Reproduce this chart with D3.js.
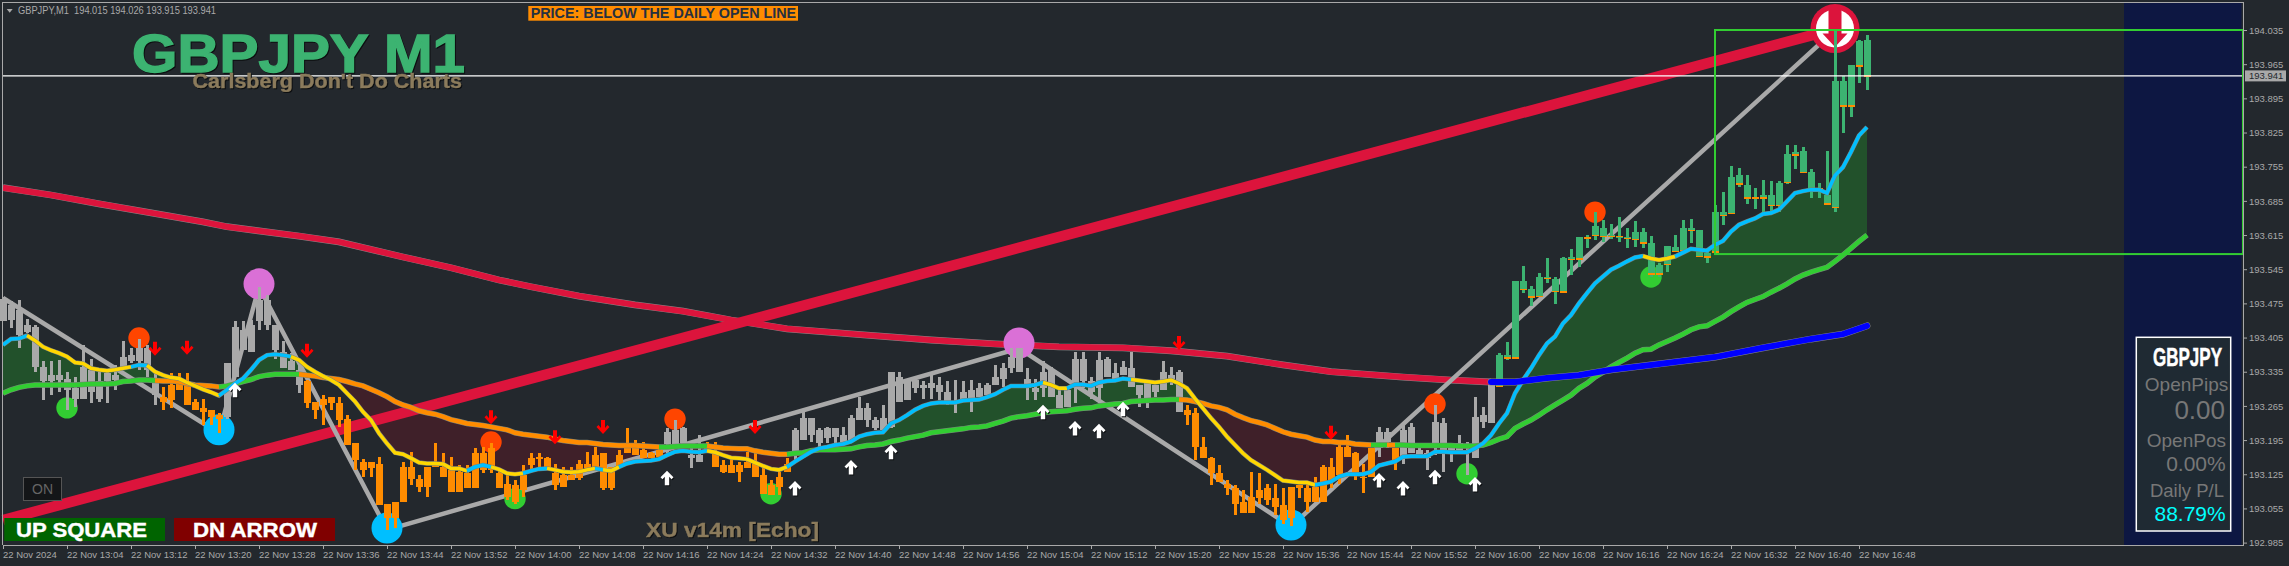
<!DOCTYPE html>
<html><head><meta charset="utf-8">
<script src="https://cdn.jsdelivr.net/npm/d3@7"></script>
<style>
html,body{margin:0;padding:0;background:#23282d;overflow:hidden}
svg{display:block}
text{font-family:"Liberation Sans",Arial,sans-serif;white-space:pre}
.sh{filter:drop-shadow(1px 1px 0 #0c0e10)}
.axis text{font-size:9.5px;fill:#a9a9a9;font-family:"Liberation Sans",Arial,sans-serif}
.axis line{stroke:#a9a9a9}
.axis path{display:none}
</style></head><body><div id="c"></div>
<script>
// Prices below are thousandths above 193.000.
const priceBase = 193;
const high = [489,479,482,444,431,356,356,359,335,325,
390,362,335,335,349,397,383,403,390,332,
304,332,332,332,280,280,257,250,352,438,
438,441,509,492,431,397,373,359,318,274,
287,284,284,246,188,157,151,161,65,69,
151,171,123,140,188,168,161,144,144,178,
181,188,134,
127,113,144,168,168,161,147,
140,140,154,171,181,168,140,175,219,195,
192,171,178,219,236,222,192,205,192,192,
154,154,151,171,168,137,113,130,158,219,
257,240,219,222,219,222,246,284,270,243,
267,335,335,318,321,315,332,325,315,318,
315,318,311,311,349,
352,383,383,342,321,
356,345,304,298,376,376,325,376,366,352,
356,376,308,311,308,356,345,339,267,260,
202,161,144,113,103,93,130,127,106,106,
96,99,103,106,120,144,158,192,205,171,
147,178,222,219,178,229,229,178,175,267,
240,181,205,192,284,263,308,
373,395,520,
552,511,537,567,530,571,587,612,615,663,
645,638,651,629,643,629,613,557,593,615,
646,648,626,588,
676,703,756,752,737,711,
727,725,725,799,799,795,751,722,787,1035,
940,963,1015,1024];
const bodyTop = [485,472,461,431,427,345,328,328,321,301,
345,339,315,332,328,366,369,383,383,321,
284,308,315,308,274,260,257,246,352,427,
420,431,482,482,431,376,356,339,315,274,
280,284,270,239,188,151,151,147,65,69,
140,140,116,140,144,140,134,130,127,168,
168,178,127,
106,103,123,158,161,158,127,
123,123,147,147,164,168,140,164,178,178,
175,168,175,212,216,219,164,164,178,171,
144,144,144,151,147,123,103,120,147,216,
240,240,216,219,219,205,240,260,260,236,
240,335,325,315,318,308,311,308,294,274,
294,298,301,308,325,
342,366,383,321,301,
335,339,287,298,362,362,315,359,362,332,
345,342,308,311,308,335,328,335,257,250,
181,158,127,106,96,69,79,93,96,76,
62,99,102,96,99,140,140,181,181,168,
120,178,212,212,178,216,222,175,168,233,
229,181,188,171,243,246,308,
369,369,520,
520,504,530,530,525,567,570,612,612,634,
629,615,613,610,622,622,598,554,593,591,
629,629,626,578,
662,662,734,739,717,691,
696,696,722,780,785,787,744,710,696,930,
930,963,1012,1014];
const bodyBottom = [438,441,410,417,345,315,315,318,297,280,
280,294,280,315,318,345,356,356,339,287,
274,277,298,267,257,253,243,239,243,325,
379,376,438,431,379,342,339,308,270,257,
267,270,236,185,154,134,137,62,35,35,
69,116,99,99,140,120,89,89,96,96,
134,134,96,
79,69,93,144,156,140,103,
99,113,117,137,140,96,96,140,168,164,
158,158,161,187,187,188,158,151,171,140,
130,127,130,137,119,84,82,99,130,171,
195,205,188,199,202,192,195,236,236,219,
216,222,274,277,301,301,301,294,270,270,
277,277,284,287,308,
321,342,335,301,294,
301,284,260,263,301,315,294,301,325,315,
328,304,287,280,294,298,321,253,246,181,
158,127,110,96,65,45,45,76,72,58,
31,35,96,69,69,69,113,123,161,130,
117,120,178,192,154,161,168,161,158,181,
171,168,171,168,158,233,229,
304,363,363,
503,488,489,525,499,498,564,565,608,614,
612,611,612,607,605,598,535,535,554,581,
583,624,571,570,
580,655,659,719,690,690,
690,675,675,722,778,743,710,709,678,671,
879,879,961,940];
const low = [438,424,383,414,335,277,287,294,257,263,
280,270,274,270,298,339,352,339,325,267,
257,260,298,267,257,226,226,209,239,325,
379,376,420,420,362,342,339,291,260,239,
226,257,222,185,134,120,120,62,11,14,
69,103,89,79,140,120,89,89,96,96,
127,127,96,
72,65,79,134,140,140,93,
99,113,113,137,140,93,93,137,168,164,
158,158,161,168,178,188,137,151,171,140,
127,127,110,137,119,84,82,82,130,154,
195,192,181,188,185,192,192,236,222,216,
216,219,274,277,291,280,280,277,267,250,
277,253,284,287,308,
304,332,335,277,277,
284,284,260,263,270,301,280,270,325,315,
328,304,263,260,284,298,308,253,226,154,
158,103,110,82,41,45,45,65,62,41,
24,18,76,48,69,69,96,106,161,113,
86,120,161,178,134,147,168,158,134,164,
130,151,171,123,158,219,229,
303,359,363,
496,470,488,516,474,498,533,550,588,605,
600,606,600,588,591,589,529,529,539,581,
583,598,571,557,
577,635,659,714,679,669,
659,662,662,719,750,743,690,691,677,662,
825,857,927,913];
const candleRuns = [[0,19,"gray"],[20,27,"orange"],[28,37,"gray"],[38,82,"orange"],[83,87,"gray"],[88,98,"orange"],[99,147,"gray"],[148,171,"orange"],[172,173,"gray"],[174,174,"orange"],[175,186,"gray"],[187,233,"green"]];

const fastLine = [390,402,403,409,399,386,379,373,366,354,352,342,339,337,339,342,345,349,348,335,328,323,321,313,306,299,293,286,298,311,321,339,359,369,371,369,366,359,345,335,326,318,308,291,274,253,236,209,188,169,166,158,149,147,147,146,137,137,132,140,144,140,135,
127,125,127,132,136,137,134,130,129,130,134,137,134,132,140,147,151,152,153,156,164,171,173,171,170,173,170,164,159,158,156,149,142,136,134,140,151,161,171,178,181,185,187,192,202,207,210,211,229,236,246,257,265,270,272,272,272,276,277,278,283,289,
298,306,306,306,308,313,308,301,301,309,309,306,313,316,317,321,319,317,315,313,315,318,311,301,280,260,240,222,202,185,168,154,144,134,123,112,110,108,108,103,106,110,120,125,125,125,130,143,147,151,161,162,162,162,171,171,170,170,170,178,188,205,
229,250,291,318,342,369,393,407,434,451,475,496,516,530,544,552,561,569,572,567,564,567,571,579,587,585,583,595,603,622,636,643,649,658,660,667,684,701,705,708,708,701,737,754,785,819,836];
const slowLine = [291,298,303,306,308,308,308,308,308,308,309,310,310,310,311,315,316,318,318,317,316,316,315,311,308,307,306,304,306,310,315,319,325,328,330,330,330,330,328,326,323,321,319,315,310,306,299,292,284,274,267,262,255,251,248,243,237,233,229,227,225,222,219,
216,210,207,205,203,201,197,194,192,190,190,188,186,185,184,184,184,183,182,181,181,182,183,183,183,183,181,179,178,177,177,173,170,168,166,166,168,169,173,175,175,175,176,177,181,184,185,187,192,195,199,202,205,210,212,214,216,218,221,222,224,229,
234,240,243,245,248,251,253,254,255,258,260,261,265,267,269,270,274,275,276,277,277,278,278,277,274,270,265,262,257,248,241,235,231,226,219,212,207,204,201,195,192,192,190,190,187,186,185,185,185,185,185,184,184,184,184,184,184,183,183,183,185,190,
197,202,219,228,236,246,257,267,277,287,301,311,324,334,345,354,363,373,380,381,390,397,404,412,421,427,429,438,447,458,468,477,483,489,498,506,515,525,533,539,544,549,561,574,588,602,615];
const fastRuns = [[0,3,"blue"],[3,16,"yellow"],[16,18,"blue"],[18,27,"yellow"],[27,36,"blue"],[36,58,"yellow"],[58,61,"blue"],[61,65,"yellow"],[65,68,"blue"],[68,74,"yellow"],[74,75,"blue"],[75,77,"yellow"],[77,88,"blue"],[88,98,"yellow"],[98,130,"blue"],[130,133,"yellow"],[133,141,"blue"],[141,164,"yellow"],[164,205,"blue"],[205,209,"yellow"],[209,233,"blue"]];
const slowRuns = [[0,19,"green"],[19,27,"orange"],[27,37,"green"],[37,82,"orange"],[82,88,"green"],[88,98,"orange"],[98,147,"green"],[147,171,"orange"],[171,173,"green"],[173,174,"orange"],[174,233,"green"]];

const longBarsRed = [0,6,12,18,25,28,37,42,50,56,62,66,72,79,85,91,98,108,116,124,132,140,146,153,160,166,175,181,186];
const longRed = [712,697,679,662,642,632,613,601,570,548,523,509,490,472,459,441,423,410,400,392,386,384,378,367,349,335,324,318,314];
const longBarsBlue = [186,189,193,197,201,206,214,220,226,230,233];
const longBlue = [314,314,322,328,339,349,365,384,402,412,429];

const trendBars = [0,229];
const trendValues = [31,1037];
const zigzagBars = [0,27,32,48,127,161,229];
const zigzagValues = [486,209,509,11,383,18,1035];

const blueDotBars = [27,48,161];      const blueDotValues = [216,15,21];
const pinkDotBars = [32,127];         const pinkDotValues = [515,394];
const redDotBars = [17,61,84,179,199]; const redDotValues = [404,191,238,269,662];
const greenDotBars = [8,64,96,183,206]; const greenDotValues = [261,75,85,126,529];
const downArrowBars = [19,23,38,61,69,75,94,147,166];
const downArrowValues = [382,384,378,242,201,222,222,394,210];
const upArrowBars = [29,83,99,106,111,130,134,137,140,172,175,179,184];
const upArrowValues = [298,118,97,140,171,253,220,214,259,113,97,120,105];
const bigMarkerBar = 229, bigMarkerValue = 1038;
const boxStartBar = 214, boxTop = 194.035, boxBottom = 193.576;
const lastPrice = 193.941;

const priceTicks = [194.035,193.965,193.895,193.825,193.755,193.685,193.615,193.545,193.475,193.405,193.335,193.265,193.195,193.125,193.055,192.985];
const timeLabels = ["22 Nov 2024","22 Nov 13:04","22 Nov 13:12","22 Nov 13:20","22 Nov 13:28","22 Nov 13:36","22 Nov 13:44","22 Nov 13:52","22 Nov 14:00","22 Nov 14:08","22 Nov 14:16","22 Nov 14:24","22 Nov 14:32","22 Nov 14:40","22 Nov 14:48","22 Nov 14:56","22 Nov 15:04","22 Nov 15:12","22 Nov 15:20","22 Nov 15:28","22 Nov 15:36","22 Nov 15:44","22 Nov 15:52","22 Nov 16:00","22 Nov 16:08","22 Nov 16:16","22 Nov 16:24","22 Nov 16:32","22 Nov 16:40","22 Nov 16:48"];

const W=2289,H=566,L=2.5,R=2243,T=2.5,B=545;
const C={bg:"#23282d",frame:"#a9a9a9",gray:"#a9a9a9",orange:"#ff8c00",green:"#3cb371",blue:"#00bfff",yellow:"#ffd700",lime:"#32cd32",crimson:"#dc143c",deep:"#0000ff",tan:"#8b7b5c"};
const P=v=>priceBase+v/1000;
const x=d3.scaleLinear().domain([0,233]).range([3,1867]);
const y=d3.scaleLinear().domain([192.985,194.035]).range([542.6,30]);
const svg=d3.select("#c").append("svg").attr("width",W).attr("height",H).attr("viewBox",`0 0 ${W} ${H}`);
svg.append("rect").attr("width",W).attr("height",H).attr("fill",C.bg);
svg.append("rect").attr("x",2124).attr("y",T).attr("width",117.5).attr("height",B-T).attr("fill","#0d1742");

const defs=svg.append("defs");
const bars=d3.range(high.length);
defs.append("clipPath").attr("id","above").append("path").attr("d",d3.area().x(i=>x(i)).y0(0).y1(i=>y(P(slowLine[i])))(bars));
defs.append("clipPath").attr("id","below").append("path").attr("d",d3.area().x(i=>x(i)).y0(H).y1(i=>y(P(slowLine[i])))(bars));
const band=d3.area().x(i=>x(i)).y0(i=>y(P(slowLine[i]))).y1(i=>y(P(fastLine[i])));
svg.append("path").attr("d",band(bars)).attr("fill","#22512b").attr("clip-path","url(#above)");
svg.append("path").attr("d",band(bars)).attr("fill","#3f2029").attr("clip-path","url(#below)");

const ln=d3.line().x(d=>x(d[0])).y(d=>y(P(d[1])));
const zip=(a,b)=>a.map((v,i)=>[v,b[i]]);
// long average under candles
svg.append("path").attr("d",ln(zip(longBarsRed,longRed))).attr("fill","none").attr("stroke","#8a8a8a").attr("stroke-width",6.8);
svg.append("path").attr("d",ln(zip(longBarsRed,longRed))).attr("fill","none").attr("stroke",C.crimson).attr("stroke-width",6);
// trend + zigzag
svg.append("path").attr("d",ln(zip(trendBars,trendValues))).attr("fill","none").attr("stroke",C.crimson).attr("stroke-width",10.6);
svg.append("path").attr("d",ln(zip(zigzagBars,zigzagValues))).attr("fill","none").attr("stroke",C.gray).attr("stroke-width",4.5);
// dots
function dots(bs,vs,r,c){svg.append("g").selectAll("circle").data(zip(bs,vs)).join("circle").attr("cx",d=>x(d[0])).attr("cy",d=>y(P(d[1]))).attr("r",r).attr("fill",c);}
dots(blueDotBars,blueDotValues,15.5,C.blue);
dots(pinkDotBars,pinkDotValues,15.5,"#da70d6");
dots(redDotBars,redDotValues,10.7,"#ff4500");
dots(greenDotBars,greenDotValues,10.7,C.lime);
// big marker
const mk=svg.append("g").attr("transform",`translate(${x(bigMarkerBar)},${y(P(bigMarkerValue))})`);
mk.append("circle").attr("r",24.5).attr("fill",C.crimson);
mk.append("circle").attr("r",19).attr("fill","#ffffff");
mk.append("path").attr("d","M-6.5,-20V5H-12.5L0,18.5L12.5,5H6.5V-20Z").attr("fill",C.crimson);
// candles
const catOf=i=>candleRuns.find(r=>i>=r[0]&&i<=r[1])[2];
const colOf={gray:C.gray,orange:C.orange,green:C.green};
const gc=svg.append("g").attr("shape-rendering","crispEdges");
gc.selectAll("rect.w").data(bars).join("rect").attr("class","w").attr("x",i=>x(i)-1).attr("width",3)
  .attr("y",i=>y(P(high[i]))).attr("height",i=>Math.max(1,y(P(low[i]))-y(P(high[i])))).attr("fill",i=>colOf[catOf(i)]);
gc.selectAll("rect.b").data(bars).join("rect").attr("class","b").attr("x",i=>x(i)-3).attr("width",7)
  .attr("y",i=>y(P(bodyTop[i]))).attr("height",i=>Math.max(1.5,y(P(bodyBottom[i]))-y(P(bodyTop[i])))).attr("fill",i=>colOf[catOf(i)]);
gc.selectAll("rect.o").data(bars.filter(i=>catOf(i)==="green")).join("rect").attr("class","o").attr("x",i=>x(i)-3).attr("width",7)
  .attr("y",i=>y(P(bodyBottom[i]))-1).attr("height",1.5).attr("fill",C.orange);
// averages
function multi(series,runs,cols,w,outline){
  svg.append("path").attr("d",ln(bars.map(i=>[i,series[i]]))).attr("fill","none").attr("stroke",outline).attr("stroke-width",w+1);
  runs.forEach(r=>{svg.append("path").attr("d",ln(d3.range(r[0],r[1]+1).map(i=>[i,series[i]]))).attr("fill","none").attr("stroke",cols[r[2]]).attr("stroke-width",w);});
}
multi(slowLine,slowRuns,{green:C.lime,orange:C.orange},4.5,"#77807a");
multi(fastLine,fastRuns,{blue:C.blue,yellow:C.yellow},3.5,"#77807a");
svg.append("path").attr("d",ln(zip(longBarsBlue,longBlue))).attr("fill","none").attr("stroke","#8a8a8a").attr("stroke-width",6.8).attr("stroke-linecap","round");
svg.append("path").attr("d",ln(zip(longBarsBlue,longBlue))).attr("fill","none").attr("stroke",C.deep).attr("stroke-width",6).attr("stroke-linecap","round");
// arrows
svg.append("g").selectAll("path").data(zip(downArrowBars,downArrowValues)).join("path")
 .attr("transform",d=>`translate(${x(d[0])},${y(P(d[1]))})`).attr("d","M-2,-7H2V1L4.5,-2L6.5,0L0,7L-6.5,0L-4.5,-2L-2,1Z").attr("fill","#ff0000");
svg.append("g").selectAll("path").data(zip(upArrowBars,upArrowValues)).join("path").attr("class","sh")
 .attr("transform",d=>`translate(${x(d[0])},${y(P(d[1]))})`).attr("d","M-2.2,7.5H2.2V-1L4.5,1.5L6.5,-0.5L0,-7L-6.5,-0.5L-4.5,1.5L-2.2,-1Z").attr("fill","#ffffff");
// price line and box
const yLast=y(lastPrice);
svg.append("line").attr("x1",L).attr("x2",R).attr("y1",yLast).attr("y2",yLast).attr("stroke","#ffffff").attr("stroke-width",1.2);
svg.append("rect").attr("x",x(boxStartBar)).attr("y",y(boxTop)).attr("width",R-x(boxStartBar)).attr("height",y(boxBottom)-y(boxTop)).attr("fill","none").attr("stroke",C.lime).attr("stroke-width",2);
// frame
svg.append("path").attr("d",`M${L},${B}V${T}H${R}V${B}H${L}`).attr("fill","none").attr("stroke",C.frame).attr("stroke-width",1).attr("shape-rendering","crispEdges");
// axes
const ax=svg.append("g").attr("class","axis").attr("transform",`translate(${R},0)`).call(d3.axisRight(y).tickValues(priceTicks).tickFormat(d3.format(".3f")).tickSize(4).tickPadding(2));
ax.selectAll("text").attr("dy","0.34em");
const bx=svg.append("g").attr("class","axis").attr("transform",`translate(0,${B})`).call(d3.axisBottom(x).tickValues(timeLabels.map((_,k)=>k*8)).tickFormat((_,k)=>timeLabels[k]).tickSize(4).tickPadding(2));
bx.selectAll("text").attr("text-anchor","start").attr("dx","-0.5");
// price tag
svg.append("rect").attr("x",2245).attr("y",yLast-5.5).attr("width",41).attr("height",11).attr("fill","#a9a9a9");
svg.append("text").attr("x",2249).attr("y",yLast+3.5).attr("font-size",9.5).attr("fill","#23282d").text("193.941");
// text helpers
function t(s,xp,yp,size,fill,opt={}){const e=svg.append("text").attr("x",xp).attr("y",yp).attr("font-size",size).attr("fill",fill).text(s);
 if(opt.bold)e.attr("font-weight","bold"); if(opt.anchor)e.attr("text-anchor",opt.anchor);
 if(opt.len)e.attr("textLength",opt.len).attr("lengthAdjust","spacingAndGlyphs");
 if(opt.sh)e.attr("class","sh"); if(opt.stroke)e.attr("stroke",fill).attr("stroke-width",opt.stroke); return e;}
svg.append("path").attr("d","M6.7,9H12.7L9.7,12.8Z").attr("fill","#a9a9a9");
t("GBPJPY,M1  194.015 194.026 193.915 193.941",18,14,10.5,"#a9a9a9",{len:198});
t("GBPJPY M1",132,71.7,54,C.green,{bold:true,len:333,sh:true,stroke:1.4});
t("Carlsberg Don't Do Charts",192.5,87.5,20,C.tan,{bold:true,len:269.5,sh:true,stroke:0.4});
svg.append("rect").attr("x",528.3).attr("y",6).attr("width",269.7).attr("height",14.7).attr("fill",C.orange);
t("PRICE: BELOW THE DAILY OPEN LINE",530.7,18,14,"#263040",{bold:true,len:265.5});
svg.append("rect").attr("x",23.5).attr("y",477.5).attr("width",38).attr("height",23).attr("fill","#141618").attr("stroke","#555");
t("ON",42.5,494,14,"#666",{anchor:"middle"});
svg.append("rect").attr("x",4.3).attr("y",518).attr("width",160.7).attr("height",23).attr("fill","#006400");
svg.append("rect").attr("x",174).attr("y",518).attr("width",161).attr("height",23).attr("fill","#800000");
t("UP SQUARE",16,536.7,21,"#fff",{bold:true,len:131,stroke:0.4});
t("DN ARROW",193,536.7,21,"#fff",{bold:true,len:124,stroke:0.4});
t("XU v14m [Echo]",646,537,20,C.tan,{bold:true,len:173,sh:true,stroke:0.4});
// panel
svg.append("rect").attr("x",2136.3).attr("y",337.3).attr("width",94.4).attr("height",193.7).attr("fill","#1f2a33").attr("stroke","#fff").attr("stroke-width",1.5);
t("GBPJPY",2153,365.7,26,"#fff",{bold:true,len:69,stroke:0.5});
t("OpenPips",2228.3,390.7,19,"#777",{anchor:"end"});
t("0.00",2225,419,26,"#777",{anchor:"end"});
t("OpenPos",2226,446.7,19,"#777",{anchor:"end"});
t("0.00%",2225.7,470.7,21,"#777",{anchor:"end"});
t("Daily P/L",2224,496.7,18.5,"#777",{anchor:"end"});
t("88.79%",2225.7,520.7,21,"#00ffff",{anchor:"end"});
</script></body></html>
